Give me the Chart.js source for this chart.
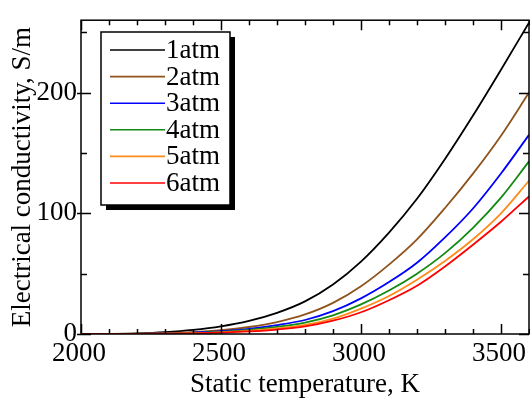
<!DOCTYPE html>
<html>
<head>
<meta charset="utf-8">
<script src="https://cdn.jsdelivr.net/npm/chart.js@4.4.0/dist/chart.umd.min.js"></script>
<style>
  html, body { margin: 0; padding: 0; background: #fff; }
</style>
</head>
<body>
<canvas id="canvas" width="530" height="398"></canvas>
<script>
// static temperature, K
var temps = [2000, 2100, 2200, 2300, 2400, 2500, 2600, 2700, 2800, 2900, 3000, 3100, 3200, 3300, 3400, 3500, 3600];

// electrical conductivity, S/m
var atm1 = [0, 0.15, 0.6, 1.6, 3.4, 6.3, 10.8, 17.5, 27, 41, 60, 84, 112, 145, 181, 219, 258];
var atm2 = [0, 0.03, 0.2, 0.65, 1.5, 3.1, 5.8, 9.9, 16.2, 25.8, 39.6, 57.5, 78.4, 104.4, 132.9, 164.3, 200];
var atm3 = [0, 0.02, 0.14, 0.45, 1.1, 2.3, 4.3, 7.4, 11.6, 18.9, 29.5, 43, 59, 80, 104, 133, 165];
var atm4 = [0, 0.015, 0.11, 0.36, 0.85, 1.8, 3.4, 5.9, 9.5, 15.5, 24.5, 36, 50, 67, 88, 113, 143];
var atm5 = [0, 0.01, 0.08, 0.27, 0.65, 1.4, 2.6, 4.6, 7.6, 12.7, 21, 31.5, 45, 60.5, 78.5, 100, 127];
var atm6 = [0, 0.01, 0.06, 0.2, 0.5, 1.1, 2.1, 3.7, 6.3, 11, 18, 28, 40, 56, 74, 93, 114];

var seriesLabels = ['1atm', '2atm', '3atm', '4atm', '5atm', '6atm'];
var seriesValues = [atm1, atm2, atm3, atm4, atm5, atm6];
var seriesColors = ['#000000', '#8f531c', '#0000ff', '#138a13', '#ff8c1a', '#ff0000'];

// axis tick labels
var xTickLabels = [2000, 2500, 3000, 3500];
var yTickLabels = [0, 100, 200];

var FONT = "'Liberation Serif', 'Times New Roman', serif";

// box frame, inward ticks on all four sides, x tick labels and the framed legend
var framePlugin = {
   id: 'frame',
   afterDraw: function(chart) {
      var ctx = chart.ctx;
      var a = chart.chartArea;
      var xs = chart.scales.x, ys = chart.scales.y;
      ctx.save();
      ctx.strokeStyle = '#000';
      ctx.lineWidth = 1.5;
      ctx.strokeRect(a.left, a.top, a.right - a.left, a.bottom - a.top);
      ctx.beginPath();
      for (var t = xs.min; t <= xs.max; t += 100) {
         var px = Math.round(xs.getPixelForValue(t)) + 0.5;
         var len = (t % 500 === 0) ? 10 : 5;
         ctx.moveTo(px, a.bottom); ctx.lineTo(px, a.bottom - len);
         ctx.moveTo(px, a.top); ctx.lineTo(px, a.top + len);
      }
      for (var v = ys.min; v <= ys.max; v += 50) {
         var py = Math.round(ys.getPixelForValue(v)) + 0.5;
         var major = (v % 100 === 0);
         var l2 = major ? 10 : 6;
         ctx.moveTo(a.left - (major ? 4 : 0), py); ctx.lineTo(a.left + l2, py);
         ctx.moveTo(a.right, py); ctx.lineTo(a.right - l2, py);
      }
      ctx.stroke();

      ctx.fillStyle = '#000';
      ctx.font = '27px ' + FONT;
      ctx.textAlign = 'center';
      ctx.textBaseline = 'alphabetic';
      xTickLabels.forEach(function(val) {
         ctx.fillText(String(val), xs.getPixelForValue(val) - 2, a.bottom + 27);
      });

      // legend
      var bx = 101, by = 32, bw = 129, bh = 173;
      ctx.fillStyle = '#000';
      ctx.fillRect(bx + 5, by + 5, bw, bh);
      ctx.fillStyle = '#fff';
      ctx.fillRect(bx, by, bw, bh);
      ctx.strokeRect(bx, by, bw, bh);
      ctx.textBaseline = 'middle';
      ctx.textAlign = 'left';
      chart.data.datasets.forEach(function(ds, i) {
         var y = by + 18 + i * 26.6;
         ctx.strokeStyle = ds.borderColor;
         ctx.lineWidth = 1.6;
         ctx.beginPath();
         ctx.moveTo(bx + 9, y); ctx.lineTo(bx + 64, y);
         ctx.stroke();
         ctx.fillStyle = '#000';
         ctx.fillText(ds.label, bx + 65, y + 1);
      });
      ctx.restore();
   }
};

var datasets = seriesLabels.map(function(name, i) {
   return {
      label: name,
      data: temps.map(function(t, k) { return { x: t, y: seriesValues[i][k] }; }),
      borderColor: seriesColors[i],
      backgroundColor: seriesColors[i],
      borderWidth: 1.8,
      pointRadius: 0,
      cubicInterpolationMode: 'monotone',
      fill: false,
      order: seriesLabels.length - i
   };
});

var config = {
   type: 'line',
   data: { datasets: datasets },
   options: {
      responsive: false,
      animation: false,
      devicePixelRatio: 1,
      layout: { padding: { top: 14, right: 1, left: 0, bottom: 0 } },
      plugins: {
         legend: { display: false },
         tooltip: { enabled: false }
      },
      scales: {
         x: {
            type: 'linear',
            min: 2000,
            max: 3600,
            grid: { display: false, drawTicks: false },
            border: { display: false },
            ticks: { display: false },
            afterFit: function(s) { s.height = 64; },
            title: { display: true, text: 'Static temperature, K', color: '#000', padding: { top: 0, bottom: -3 }, font: { family: FONT, size: 27 } }
         },
         y: {
            min: 0,
            max: 260,
            grid: { display: false, drawTicks: false },
            border: { display: false },
            ticks: {
               stepSize: 100, autoSkip: false, color: '#000', padding: 4,
               font: { family: FONT, size: 27 },
               callback: function(v) { return String(v); }
            },
            afterBuildTicks: function(s) {
               s.ticks = yTickLabels.map(function(v) { return { value: v }; });
            },
            afterFit: function(s) { s.width = 81; },
            title: { display: true, text: 'Electrical conductivity, S/m', color: '#000', padding: { top: 7, bottom: 0 }, font: { family: FONT, size: 27 } }
         }
      }
   },
   plugins: [framePlugin]
};

window.condChart = new Chart(document.getElementById('canvas'), config);
</script>
</body>
</html>
